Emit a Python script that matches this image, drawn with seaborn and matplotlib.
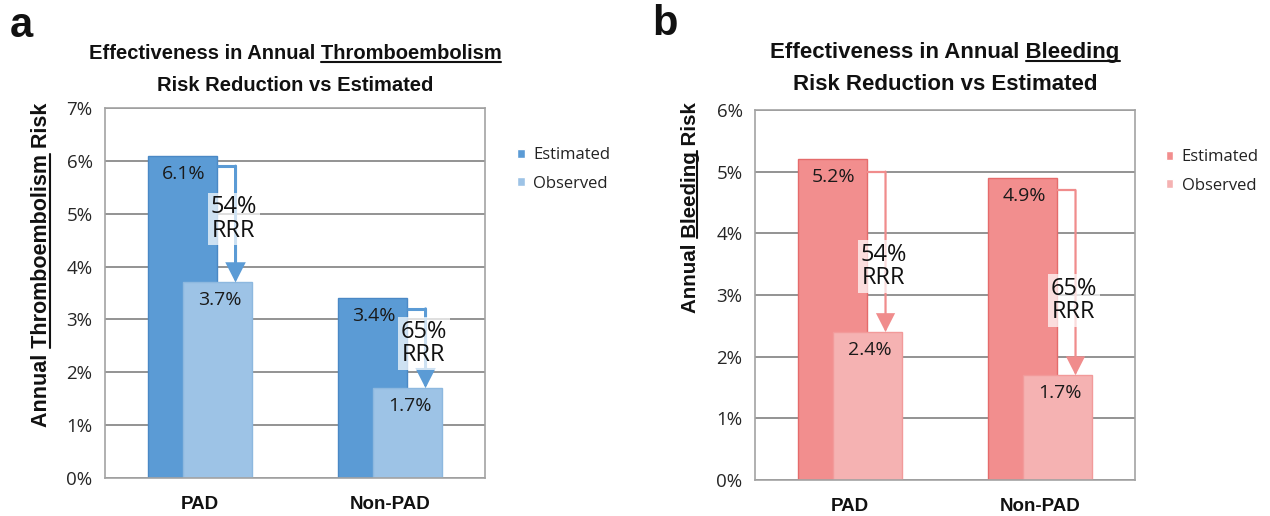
import matplotlib
matplotlib.use('Agg')
import matplotlib.pyplot as plt
import seaborn as sns
import pandas as pd
from matplotlib.lines import Line2D

# ---------------- data ----------------
categories = ['PAD', 'Non-PAD']
series = ['Estimated', 'Observed']
thrombo_estimated = [6.1, 3.4]
thrombo_observed = [3.7, 1.7]
thrombo_rrr = ['54%', '65%']
bleeding_estimated = [5.2, 4.9]
bleeding_observed = [2.4, 1.7]
bleeding_rrr = ['54%', '65%']
thrombo_yticks = [0, 1, 2, 3, 4, 5, 6, 7]
bleeding_yticks = [0, 1, 2, 3, 4, 5, 6]

sns.set_theme(style='white')
plt.rcParams['font.family'] = ['Open Sans', 'DejaVu Sans']
BOLD = ['Liberation Sans', 'DejaVu Sans']

W, H = 1270, 516
fig = plt.figure(figsize=(W / 100, H / 100), dpi=100)
ax1 = fig.add_axes([105 / W, 38 / H, 380 / W, 370 / H])
ax2 = fig.add_axes([755 / W, 36 / H, 380 / W, 370 / H])

SHIFT = 0.092


def panel(ax, est, obs, rrr, yticks, colors, edges, arrow_color, arrow_lw,
          rrr_frac, legend_x):
    df = pd.DataFrame({
        'group': categories * 2,
        'series': [s for s in series for _ in categories],
        'value': list(est) + list(obs),
    })
    sns.barplot(data=df, x='group', y='value', hue='series', order=categories,
                hue_order=series, palette=colors, saturation=1, width=0.736,
                dodge=True, ax=ax, zorder=2)
    est_bars, obs_bars = ax.containers[0], ax.containers[1]
    for b in est_bars:
        b.set_x(b.get_x() + SHIFT)
        b.set_edgecolor(edges[0]); b.set_linewidth(1)
    for b in obs_bars:
        b.set_x(b.get_x() - SHIFT)
        b.set_edgecolor(edges[1]); b.set_linewidth(1)

    for i in range(len(categories)):
        eb, ob = est_bars[i], obs_bars[i]
        e_cx = eb.get_x() + eb.get_width() / 2
        o_cx = ob.get_x() + ob.get_width() / 2
        e_top, o_top = eb.get_height(), ob.get_height()
        ax.annotate(f'{est[i]}%', xy=(e_cx, e_top), xytext=(1, -13),
                    textcoords='offset points', ha='center', va='center',
                    fontsize=14, color='#1a1a1a', zorder=6)
        ax.annotate(f'{obs[i]}%', xy=(o_cx, o_top), xytext=(2, -13),
                    textcoords='offset points', ha='center', va='center',
                    fontsize=14, color='#1a1a1a', zorder=6)
        xa = o_cx + 0.095
        ys = e_top - 0.2
        ax.plot([eb.get_x() + eb.get_width(), xa], [ys, ys], color=arrow_color,
                lw=arrow_lw, solid_capstyle='butt', zorder=4)
        ax.annotate('', xy=(xa, o_top), xytext=(xa, ys),
                    arrowprops=dict(arrowstyle='-|>,head_length=0.55,head_width=0.28',
                                    color=arrow_color, lw=arrow_lw, shrinkA=0,
                                    shrinkB=0, mutation_scale=20, joinstyle='miter'),
                    zorder=4)
        ax.text(xa - 0.01, o_top + rrr_frac * (e_top - o_top), f'{rrr[i]}\nRRR',
                ha='center', va='center', fontsize=17, linespacing=0.95,
                color='#111111', zorder=5,
                bbox=dict(boxstyle='square,pad=0.12', fc='white', ec='none', alpha=0.7))

    ax.set_xlim(-0.5, 1.5)
    ax.set_ylim(yticks[0], yticks[-1])
    ax.set_yticks(yticks)
    ax.set_yticklabels([f'{t}%' for t in yticks], fontsize=13.5, color='#262626')
    ax.set_xticks(range(len(categories)))
    ax.set_xticklabels(categories, fontsize=13.5, fontweight='bold',
                       family=BOLD, color='#111111')
    ax.tick_params(axis='both', length=0)
    ax.tick_params(axis='y', pad=9)
    ax.tick_params(axis='x', pad=13)
    ax.set_xlabel('')
    ax.grid(axis='y', color='#8a8a8a', lw=1.3)
    ax.set_axisbelow(True)
    for s in ax.spines.values():
        s.set_visible(True)
        s.set_color('#a3a3a3')
        s.set_linewidth(1.2)
    sns.move_legend(ax, 'upper left', bbox_to_anchor=(legend_x, 0.935), frameon=False,
                    title=None, handlelength=0.45, handleheight=0.45,
                    handletextpad=0.5, labelspacing=0.75, fontsize=12)
    for t in ax.get_legend().get_texts():
        t.set_color('#222222')


panel(ax1, thrombo_estimated, thrombo_observed, thrombo_rrr, thrombo_yticks,
      ['#5b9bd5', '#9dc3e6'], ['#4a88c5', '#8db8df'], '#5b9bd5', 2.2,
      0.5, 1.046)
panel(ax2, bleeding_estimated, bleeding_observed, bleeding_rrr, bleeding_yticks,
      ['#f28e8e', '#f5b2b2'], ['#e56b6b', '#f29a9a'], '#f08c8c', 1.6,
      0.38, 1.042)

# titles and y labels
specs = [
    (ax1, 'Effectiveness in Annual Thromboembolism', 'Risk Reduction vs Estimated',
     'Thromboembolism', 14.5, 0.132, 0.046, 'Annual Thromboembolism Risk',
     'Annual Thromboembolism', (-0.139, 0.576), 15.5),
    (ax2, 'Effectiveness in Annual Bleeding', 'Risk Reduction vs Estimated',
     'Bleeding', 16, 0.141, 0.054, 'Annual Bleeding Risk', 'Annual Bleeding',
     (-0.145, 0.736), 14.8),
]
title_objs = []
for ax, l1, l2, word, fs, y1, y2, ylab, ylab_pre, ycoords, yfs in specs:
    t1 = ax.text(0.5, 1 + y1, l1, transform=ax.transAxes, ha='center', va='baseline',
                 fontsize=fs, fontweight='bold', family=BOLD, color='#111111')
    ax.text(0.5, 1 + y2, l2, transform=ax.transAxes, ha='center', va='baseline',
            fontsize=fs, fontweight='bold', family=BOLD, color='#111111')
    ax.set_ylabel(ylab, fontsize=yfs, fontweight='bold', family=BOLD, color='#111111')
    ax.yaxis.set_label_coords(*ycoords)
    title_objs.append((ax, t1, word, fs, ylab_pre, yfs))

fig.text(10 / W, 1 - 37 / H, 'a', fontsize=30, fontweight='bold', family=BOLD,
         va='baseline', color='#111111')
fig.text(652 / W, 1 - 35 / H, 'b', fontsize=30, fontweight='bold', family=BOLD,
         va='baseline', color='#111111')

fig.canvas.draw()
renderer = fig.canvas.get_renderer()
inv = fig.transFigure.inverted()


def text_width(s, fs):
    t = fig.text(0, 0, s, fontsize=fs, fontweight='bold', family=BOLD)
    w = t.get_window_extent(renderer).width
    t.remove()
    return w


for ax, t1, word, fs, ylab_pre, yfs in title_objs:
    bb = t1.get_window_extent(renderer)
    ww = text_width(word, fs)
    base = t1.get_transform().transform(t1.get_position())[1]
    y = base - 3
    (fx0, fy), (fx1, _) = inv.transform([(bb.x1 - ww, y), (bb.x1, y)])
    fig.add_artist(Line2D([fx0, fx1], [fy, fy], color='#111111', lw=1.5))

    lab = ax.yaxis.label
    lb = lab.get_window_extent(renderer)
    w_pre = text_width(ylab_pre, yfs)
    w_word = text_width(word, yfs)
    ystart = lb.y0 + w_pre - w_word
    yend = lb.y0 + w_pre
    x = lb.x1 - 0.12 * yfs * 100 / 72
    (gx, gy0), (_, gy1) = inv.transform([(x, ystart), (x, yend)])
    fig.add_artist(Line2D([gx, gx], [gy0, gy1], color='#111111', lw=1.5))

fig.savefig('out.png', dpi=100)
